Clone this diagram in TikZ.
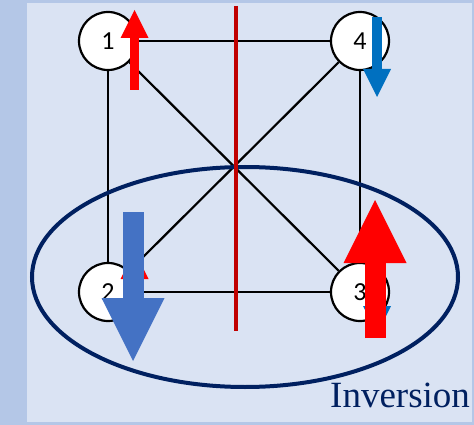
\documentclass[tikz,border=0pt]{standalone}
\usepackage{fontspec}
\setmainfont{Liberation Serif}
\newfontfamily\sitefont{Carlito}
\usetikzlibrary{arrows.meta}
\definecolor{panelblue}{HTML}{DAE3F3}
\definecolor{frameblue}{HTML}{B4C7E7}
\definecolor{navy}{HTML}{002060}
\definecolor{mirrorred}{HTML}{C00000}
\definecolor{spinblue}{HTML}{0070C0}
\definecolor{bigblue}{HTML}{4472C4}

\begin{document}
\begin{tikzpicture}[x=1pt, y=-1pt,
  site/.style={circle, draw, fill=white, line width=2.2pt, minimum size=58pt,
    inner sep=0pt, font=\sitefont\fontsize{26}{26}\selectfont},
  bond/.style={line width=2.2pt},
  spinsmall/.style={line width=9.5pt, -{Triangle[length=28pt, width=28pt, line width=0pt]}},
  spinbig/.style={line width=21pt, -{Triangle[length=63pt, width=63pt, line width=0pt]}},
]
% background
\fill[frameblue] (0,0) rectangle (474,425);
\fill[panelblue] (27,3) rectangle (472,422);

% lattice
\node[site] (n1) at (108,41) {1};
\node[site] (n4) at (360,41) {4};
\node[site] (n2) at (108,292) {2};
\node[site] (n3) at (360,292) {3};
\draw[bond] (n1) -- (n4);
\draw[bond] (n1) -- (n2);
\draw[bond] (n4) -- (n3);
\draw[bond] (n2) -- (n3);
\draw[bond] (n1) -- (n3);
\draw[bond] (n2) -- (n4);

% inversion pair
\draw[navy, line width=4pt] (245,277) ellipse [x radius=213, y radius=110];
\node[navy, font=\fontsize{37}{37}\selectfont, anchor=base west, inner sep=0pt]
  (inv) at (330,407) {Inversion};

% mirror plane
\coordinate (mtop) at (236,6);
\coordinate (mbot) at (236,331);
\draw[mirrorred, line width=4pt] (mtop) -- (mbot);

% spins
\draw[spinsmall, red] (134.5,90) -- (134.5,10);
\draw[spinsmall, spinblue] (377,17) -- (377,97);
\draw[spinsmall, red] (134.5,330) -- (134.5,251);
\draw[spinsmall, spinblue] (377,254) -- (377,334);
\draw[spinbig, bigblue] (133,212) -- (133,361);
\draw[spinbig, red] (375,338) -- (375,200);
\end{tikzpicture}
\end{document}
